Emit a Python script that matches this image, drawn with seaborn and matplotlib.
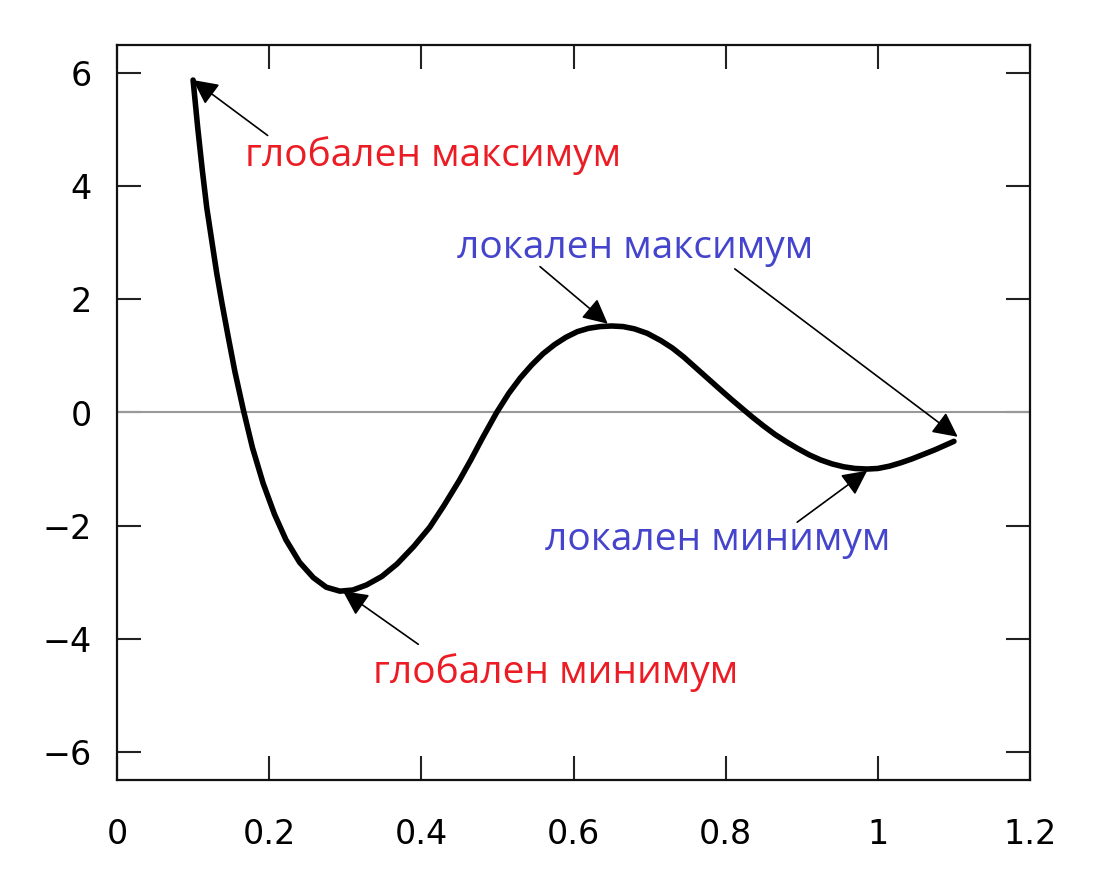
import matplotlib
matplotlib.use("Agg")
import matplotlib.pyplot as plt
import seaborn as sns
import pandas as pd

# curve values
x_vals = [0.100, 0.106, 0.112, 0.118, 0.125, 0.131, 0.138, 0.146, 0.155, 0.166,
          0.178, 0.192, 0.207, 0.222, 0.240, 0.258, 0.275, 0.293, 0.310, 0.328,
          0.348, 0.368, 0.390, 0.411, 0.430, 0.450, 0.465, 0.480, 0.499, 0.515,
          0.530, 0.545, 0.560, 0.575, 0.590, 0.605, 0.620, 0.635, 0.650, 0.665,
          0.680, 0.697, 0.715, 0.730, 0.745, 0.760, 0.775, 0.790, 0.806, 0.820,
          0.835, 0.850, 0.865, 0.880, 0.895, 0.910, 0.925, 0.940, 0.955, 0.970,
          0.986, 1.000, 1.015, 1.030, 1.045, 1.060, 1.075, 1.090, 1.100]
y_vals = [5.88, 5.05, 4.30, 3.62, 3.00, 2.47, 1.93, 1.35, 0.72, 0.05,
          -0.62, -1.25, -1.80, -2.25, -2.65, -2.92, -3.09, -3.16, -3.14, -3.05,
          -2.90, -2.68, -2.37, -2.03, -1.64, -1.20, -0.84, -0.46, 0.00, 0.34,
          0.61, 0.84, 1.04, 1.20, 1.33, 1.43, 1.49, 1.52, 1.53, 1.52,
          1.48, 1.40, 1.27, 1.14, 0.98, 0.80, 0.62, 0.44, 0.25, 0.09,
          -0.08, -0.24, -0.39, -0.52, -0.64, -0.75, -0.84, -0.91, -0.96, -0.99,
          -1.00, -0.99, -0.95, -0.89, -0.82, -0.74, -0.66, -0.57, -0.51]

labels = ["глобален максимум", "локален максимум", "локален максимум",
          "локален минимум", "глобален минимум"]
label_colors = ["#ec1c24", "#4444cc", "#4444cc", "#4444cc", "#ec1c24"]
# arrow tips (points on the curve) and tails
tip_x = [0.100, 0.645, 1.105, 0.986, 0.297]
tip_y = [5.88, 1.57, -0.43, -1.03, -3.16]
tail_x = [0.198, 0.556, 0.812, 0.894, 0.396]
tail_y = [4.90, 2.58, 2.54, -1.94, -4.10]
# text centres
text_x = [0.415, 0.681, None, 0.789, 0.577]
text_y = [4.54, 2.91, None, -2.26, -4.6]

x_ticks = [0, 0.2, 0.4, 0.6, 0.8, 1.0, 1.2]
x_tick_labels = ["0", "0.2", "0.4", "0.6", "0.8", "1", "1.2"]
y_ticks = [-6, -4, -2, 0, 2, 4, 6]
y_tick_labels = ["\u22126", "\u22124", "\u22122", "0", "2", "4", "6"]

sns.set_style("ticks")
plt.rcParams["font.family"] = ["DejaVu Sans"]

fig = plt.figure(figsize=(11, 8.8), dpi=100)
ax = fig.add_axes([117/1100, 1-780/880, (1030-117)/1100, (780-45)/880])

ax.axhline(0, color="#999999", lw=1.5, zorder=1)

df = pd.DataFrame({"x": x_vals, "y": y_vals})
sns.lineplot(data=df, x="x", y="y", sort=False, color="black", lw=4.0, ax=ax, zorder=3)

ax.set_xlim(0, 1.2)
ax.set_ylim(-6.5, 6.5)
ax.set_xticks(x_ticks)
ax.set_xticklabels(x_tick_labels)
ax.set_yticks(y_ticks)
ax.set_yticklabels(y_tick_labels)
ax.set_xlabel("")
ax.set_ylabel("")
ax.tick_params(direction="in", length=17, width=1.5, labelsize=24, color="#222222",
               labelcolor="black", top=True, right=True)
ax.tick_params(axis="x", pad=27)
ax.tick_params(axis="y", pad=18)
for s in ax.spines.values():
    s.set_linewidth(1.6)
    s.set_color("#111111")

for i in range(len(labels)):
    ax.annotate("", xy=(tip_x[i], tip_y[i]), xytext=(tail_x[i], tail_y[i]),
                arrowprops=dict(arrowstyle="-|>", color="black", lw=1.2,
                                mutation_scale=38, shrinkA=0, shrinkB=0),
                zorder=4)
    if text_x[i] is not None:
        ax.text(text_x[i], text_y[i], labels[i], color=label_colors[i],
                fontsize=28, family=["Open Sans", "DejaVu Sans"],
                ha="center", va="center", zorder=5)

fig.savefig("out.png", dpi=100)
